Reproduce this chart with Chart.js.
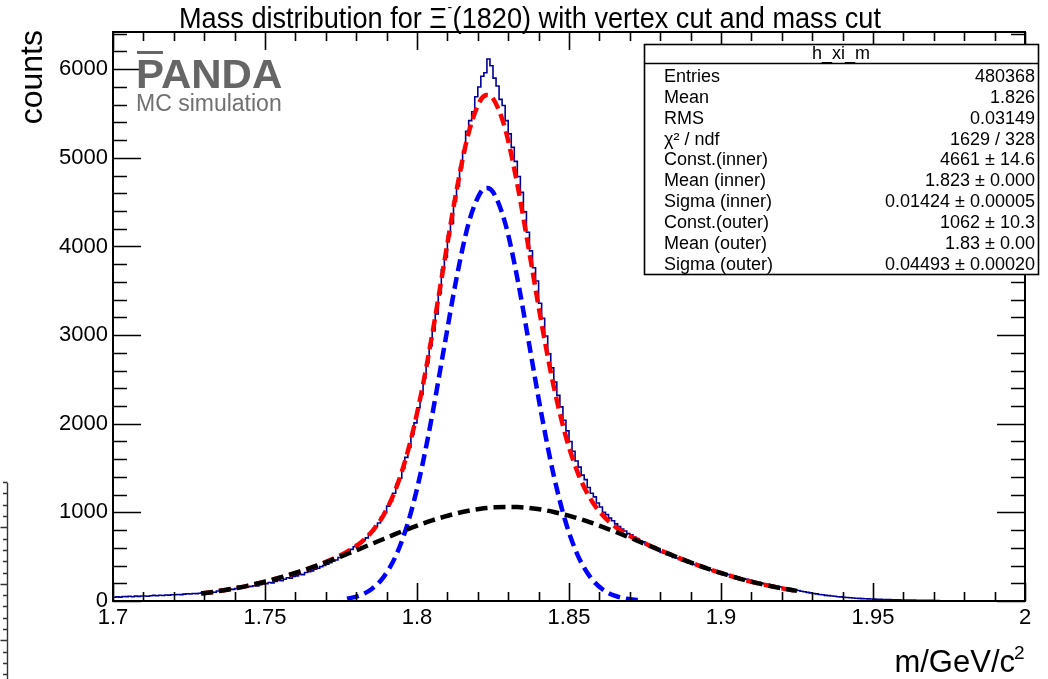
<!DOCTYPE html>
<html>
<head>
<meta charset="utf-8">
<title>Mass distribution for Xi(1820)</title>
<script src="https://cdn.jsdelivr.net/npm/chart.js@4.4.0/dist/chart.umd.min.js"></script>
<style>
  html, body { margin: 0; padding: 0; background: #fff; }
  #wrap { position: relative; width: 1048px; height: 679px; }
</style>
</head>
<body>
<div id="wrap"><canvas id="massChart" width="1048" height="679"></canvas></div>
<script>
// Histogram h_xi_m: 1 MeV bins starting at 1.700 GeV/c^2
const histLow = 1.700;
const binWidth = 0.001;
const counts = [
  42, 47, 44, 50, 49, 53, 48, 55, 52, 57, 56, 54, 60, 63, 59, 65, 62, 68, 66, 71,
  70, 74, 72, 78, 81, 79, 85, 83, 88, 92,
  93, 90, 101, 99, 112, 108, 121, 119, 134, 131, 140, 152, 150, 166, 160,
  165, 172, 170, 184, 190, 195, 208, 204, 221, 232, 228, 245, 262, 258, 276,
  284, 300, 298, 322, 330, 340, 360, 370, 388, 400, 416, 432, 452, 462, 490,
  505, 530, 560, 582, 612,
  640, 655, 690, 712, 760, 789, 842, 880, 948, 995,
  1070, 1128, 1215, 1320, 1385, 1496, 1620, 1735, 1880, 2010,
  2180, 2330, 2520, 2690, 2880, 3050, 3240, 3470, 3740, 3880,
  4120, 4260, 4510, 4680, 4890, 5080, 5300, 5420, 5520, 5690,
  5800, 5920, 5960, 6115, 6040, 5900, 5810, 5660, 5590, 5420,
  5270, 5120, 4960, 4790, 4610, 4390, 4160, 3950, 3760, 3610,
  3360, 3190, 2990, 2790, 2630, 2470, 2320, 2190, 2040, 1920,
  1800, 1690, 1580, 1510, 1420, 1370, 1280, 1215, 1175, 1105,
  1060, 1000, 975, 935, 905, 870, 840,
  812, 790, 760, 748, 722, 705, 680, 668, 642, 620,
  608, 584, 575, 548, 538, 522, 515, 492, 486, 470,
  452, 448, 430, 418, 412, 395, 386, 372, 366, 352,
  341, 334, 320, 314, 301, 296, 284, 279, 268, 262,
  250, 244, 233, 228, 216, 210, 201, 193, 188, 177,
  172, 163, 158, 149, 145, 136, 131, 124, 118, 110,
  104, 97, 92, 85, 80, 74, 70, 64, 61, 56,
  53, 48, 46, 42, 39, 37, 34, 31, 30, 27,
  26, 24, 22, 21, 19, 18, 17, 16, 15, 14,
  13, 13, 12, 11, 11, 10, 10, 9, 9, 8,
  8, 7, 7, 6, 6
];

// Double gaussian fit, sampled over the fit range
const fitX = [
  1.729, 1.733, 1.737, 1.741, 1.745, 1.749, 1.753, 1.757, 1.761, 1.765,
  1.769, 1.773, 1.777, 1.781, 1.785, 1.789, 1.793, 1.797, 1.801, 1.805,
  1.809, 1.813, 1.817, 1.821, 1.823, 1.825, 1.829, 1.833, 1.837, 1.841,
  1.845, 1.849, 1.853, 1.857, 1.861, 1.865, 1.869, 1.873, 1.877, 1.881,
  1.885, 1.889, 1.893, 1.897, 1.901, 1.905, 1.909, 1.913, 1.917, 1.921, 1.925
];
const totalFit = [
  85, 103, 125, 149, 177, 209, 245, 284, 327, 374,
  426, 485, 555, 646, 776, 970, 1263, 1691, 2276, 3006,
  3827, 4631, 5283, 5656, 5710, 5671, 5327, 4702, 3924, 3127,
  2418, 1852, 1438, 1156, 970, 844, 754, 682, 618, 559,
  502, 448, 397, 349, 305, 264, 226, 193, 163, 137, 114
];
const outerFit = [
  85, 103, 125, 149, 177, 209, 245, 284, 327, 373,
  423, 475, 530, 586, 643, 700, 757, 811, 862, 910,
  952, 989, 1019, 1041, 1049, 1055, 1062, 1060, 1049, 1031,
  1004, 971, 932, 887, 837, 784, 729, 672, 615, 558,
  502, 448, 397, 349, 305, 264, 226, 193, 163, 137, 114
];
const innerX = [
  1.777, 1.781, 1.785, 1.789, 1.793, 1.797, 1.801, 1.805, 1.809, 1.813,
  1.817, 1.821, 1.823, 1.825, 1.829, 1.833, 1.837, 1.841, 1.845, 1.849,
  1.853, 1.857, 1.861, 1.865, 1.869, 1.873
];
const innerFit = [
  25, 60, 133, 270, 507, 880, 1413, 2097, 2875, 3643,
  4265, 4615, 4661, 4615, 4265, 3643, 2875, 2097, 1413, 880,
  507, 270, 133, 60, 25, 10
];

// Stats box
const statTitle = 'h_xi_m';
const statLabels = ['Entries', 'Mean', 'RMS', 'χ² / ndf', 'Const.(inner)', 'Mean (inner)',
  'Sigma (inner)', 'Const.(outer)', 'Mean (outer)', 'Sigma (outer)'];
const statValues = ['480368', '1.826', '0.03149', '1629 / 328', '4661 ± 14.6', '1.823 ± 0.000',
  '0.01424 ± 0.00005', '1062 ± 10.3', '1.83 ± 0.00', '0.04493 ± 0.00020'];

// Axis ranges and labelled ticks
const xMin = 1.7, xMax = 2.0, xMinor = 0.01;
const yMin = 0, yMax = 6420, yMinor = 200;
const xTicks = [1.7, 1.75, 1.8, 1.85, 1.9, 1.95, 2.0];
const yTicks = [0, 1000, 2000, 3000, 4000, 5000, 6000];

const FONT = '"Liberation Sans", Arial, Helvetica, sans-serif';

// build chart points
const histPoints = counts.map((c, i) => ({ x: histLow + i * binWidth, y: c }));
histPoints.push({ x: histLow + counts.length * binWidth, y: counts[counts.length - 1] });
const zipXY = (xs, ys) => xs.map((x, i) => ({ x: x, y: ys[i] }));

// ROOT style frame, ticks on all four sides, titles and stats box
const rootDecor = {
  id: 'rootDecor',
  afterDraw(chart) {
    const ctx = chart.ctx;
    const a = chart.chartArea;
    const sx = chart.scales.x, sy = chart.scales.y;
    ctx.save();

    // frame
    ctx.strokeStyle = '#000';
    ctx.lineWidth = 2;
    ctx.strokeRect(a.left, a.top, a.right - a.left, a.bottom - a.top);

    // ticks (pointing inwards)
    ctx.lineWidth = 1.6;
    ctx.beginPath();
    const nx = Math.round((xMax - xMin) / xMinor);
    for (let k = 0; k <= nx; k++) {
      const px = Math.round(sx.getPixelForValue(xMin + k * xMinor)) + 0.5;
      const len = k % 5 === 0 ? 18 : 9;
      ctx.moveTo(px, a.bottom); ctx.lineTo(px, a.bottom - len);
      ctx.moveTo(px, a.top); ctx.lineTo(px, a.top + len);
    }
    for (let v = yMin; v <= yMax; v += yMinor) {
      const py = Math.round(sy.getPixelForValue(v)) + 0.5;
      const len = v % 1000 === 0 ? 28 : 14;
      ctx.moveTo(a.left, py); ctx.lineTo(a.left + len, py);
      ctx.moveTo(a.right, py); ctx.lineTo(a.right - len, py);
    }
    ctx.stroke();

    // stray axis at the bottom left edge
    ctx.strokeStyle = '#333';
    ctx.lineWidth = 1.4;
    ctx.beginPath();
    ctx.moveTo(7.5, 483); ctx.lineTo(7.5, 679);
    for (let i = -4; i <= 13; i++) {
      const py = Math.round(527.3 + i * 11.3) + 0.5;
      const len = (i % 5 === 0) ? 7 : 4.5;
      ctx.moveTo(7.5, py); ctx.lineTo(7.5 - len, py);
    }
    ctx.stroke();

    // title, squeezed like the ROOT font
    ctx.fillStyle = '#000';
    ctx.textBaseline = 'alphabetic';
    ctx.textAlign = 'left';
    const t1 = 'Mass distribution for Ξ';
    const t2 = '(1820) with vertex cut and mass cut';
    ctx.font = '29px ' + FONT;
    const w1 = ctx.measureText(t1).width, w2 = ctx.measureText(t2).width;
    ctx.font = '15px ' + FONT;
    const ws = ctx.measureText('-').width + 1;
    const squeeze = 702 / (w1 + ws + w2);
    ctx.save();
    ctx.translate(179, 28);
    ctx.scale(squeeze, 1);
    ctx.font = '29px ' + FONT;
    ctx.fillText(t1, 0, 0);
    ctx.font = '15px ' + FONT;
    ctx.fillText('-', w1 + 0.5, -16);
    ctx.font = '29px ' + FONT;
    ctx.fillText(t2, w1 + ws, 0);
    ctx.restore();

    // axis titles
    ctx.font = '32px ' + FONT;
    ctx.save();
    ctx.translate(42, 30);
    ctx.rotate(-Math.PI / 2);
    ctx.textAlign = 'right';
    ctx.fillText('counts', 0, 0);
    ctx.restore();
    ctx.font = '31px ' + FONT;
    ctx.textAlign = 'right';
    ctx.fillText('m/GeV/c', 1015, 672);
    ctx.font = '19px ' + FONT;
    ctx.textAlign = 'left';
    ctx.fillText('2', 1014, 659);

    // PANDA label
    ctx.fillStyle = '#666';
    ctx.fillRect(137, 51, 26, 3);
    ctx.save();
    ctx.translate(136, 88);
    ctx.scale(1.05, 1);
    ctx.font = 'bold 40px ' + FONT;
    ctx.fillText('PANDA', 0, 0);
    ctx.restore();
    ctx.fillStyle = '#707070';
    ctx.font = '23px ' + FONT;
    ctx.fillText('MC simulation', 136, 111);

    // stats box
    const bx = 644, by = 44, bw = 394, bh = 230;
    ctx.fillStyle = '#fff';
    ctx.fillRect(bx, by, bw, bh);
    ctx.strokeStyle = '#000';
    ctx.lineWidth = 1.6;
    ctx.strokeRect(bx + 0.5, by + 0.5, bw, bh);
    ctx.beginPath();
    ctx.moveTo(bx, by + 19.5); ctx.lineTo(bx + bw, by + 19.5);
    ctx.stroke();
    ctx.fillStyle = '#000';
    ctx.font = '18px ' + FONT;
    ctx.textAlign = 'center';
    ctx.fillText(statTitle, bx + bw / 2, by + 15);
    statLabels.forEach((lab, i) => {
      const yb = 75.5 + i * 20.85 + 6.5;
      ctx.textAlign = 'left';
      ctx.fillText(lab, 664, yb);
      ctx.textAlign = 'right';
      ctx.fillText(statValues[i], 1035, yb);
    });

    ctx.restore();
  }
};

const tickFont = { family: FONT, size: 22 };

new Chart(document.getElementById('massChart').getContext('2d'), {
  type: 'line',
  data: {
    datasets: [
      {
        label: 'h_xi_m',
        data: histPoints,
        stepped: true,
        borderColor: '#000096',
        borderWidth: 1.6,
        pointRadius: 0,
        fill: false,
        order: 4
      },
      {
        label: 'inner + outer',
        data: zipXY(fitX, totalFit),
        borderColor: '#ff0000',
        borderWidth: 4.5,
        borderDash: [12, 6],
        pointRadius: 0,
        cubicInterpolationMode: 'monotone',
        fill: false,
        order: 3
      },
      {
        label: 'inner',
        data: zipXY(innerX, innerFit),
        borderColor: '#0000ff',
        borderWidth: 4.5,
        borderDash: [12, 6],
        pointRadius: 0,
        cubicInterpolationMode: 'monotone',
        fill: false,
        order: 2
      },
      {
        label: 'outer',
        data: zipXY(fitX, outerFit),
        borderColor: '#000000',
        borderWidth: 4.5,
        borderDash: [12, 6],
        pointRadius: 0,
        cubicInterpolationMode: 'monotone',
        fill: false,
        order: 1
      }
    ]
  },
  options: {
    responsive: false,
    animation: false,
    layout: { padding: { top: 32, right: 23, bottom: 0, left: 0 } },
    plugins: {
      legend: { display: false },
      tooltip: { enabled: false },
      title: { display: false }
    },
    scales: {
      x: {
        type: 'linear',
        min: xMin,
        max: xMax,
        grid: { display: false },
        border: { display: false },
        afterBuildTicks: (s) => { s.ticks = xTicks.map((v) => ({ value: v })); },
        ticks: {
          autoSkip: false,
          maxRotation: 0,
          padding: -4,
          color: '#000',
          font: tickFont,
          callback: (v) => String(Math.round(v * 100) / 100)
        },
        afterFit: (s) => { s.height = 78; }
      },
      y: {
        type: 'linear',
        min: yMin,
        max: yMax,
        grid: { display: false },
        border: { display: false },
        afterBuildTicks: (s) => { s.ticks = yTicks.map((v) => ({ value: v })); },
        ticks: {
          autoSkip: false,
          padding: -3,
          color: '#000',
          font: tickFont,
          callback: (v) => String(v)
        },
        afterFit: (s) => { s.width = 113; }
      }
    }
  },
  plugins: [rootDecor]
});
</script>
</body>
</html>
